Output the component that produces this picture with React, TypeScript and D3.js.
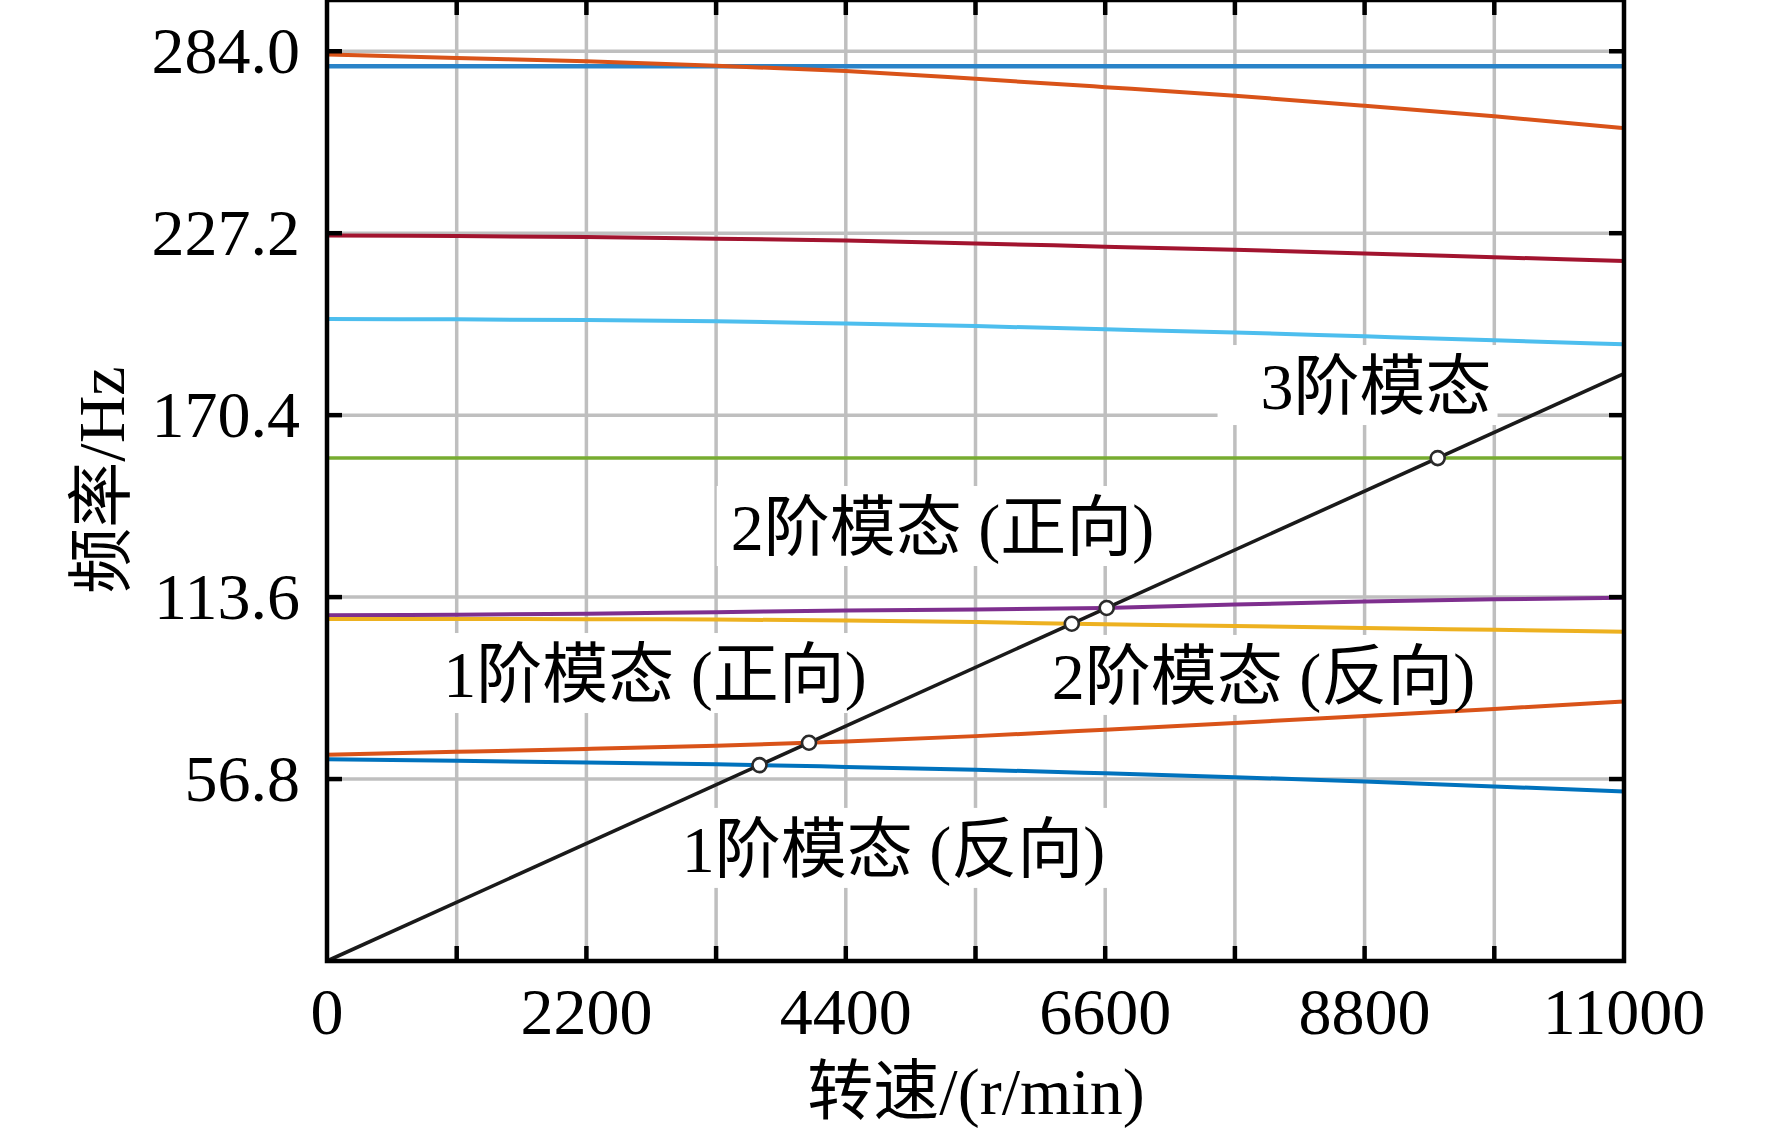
import * as d3 from "d3";

// rotor speed samples (r/min)
const speeds = [0, 1100, 2200, 3300, 4400, 5500, 6600, 7700, 8800, 9900, 11000];

// natural frequencies (Hz)
const mode1Backward = [63.0, 62.5, 62.0, 61.4, 60.6, 59.7, 58.6, 57.4, 56.0, 54.5, 52.9];
const mode1Forward = [64.4, 65.3, 66.2, 67.2, 68.5, 70.2, 72.2, 74.3, 76.5, 78.7, 81.0];
const mode2Backward = [106.8, 106.75, 106.7, 106.6, 106.3, 105.8, 105.1, 104.6, 103.95, 103.4, 102.8];
const mode2Forward = [107.9, 108.1, 108.4, 108.9, 109.4, 109.7, 110.2, 111.3, 112.2, 112.9, 113.4];
const mode3 = [157.0, 157.0, 157.0, 157.0, 157.0, 157.0, 157.0, 157.0, 157.0, 157.0, 157.0];
const mode4 = [200.4, 200.3, 200.1, 199.7, 199.0, 198.2, 197.2, 196.2, 195.0, 193.8, 192.5];
const mode5 = [226.5, 226.3, 226.0, 225.5, 224.9, 224.0, 223.0, 222.0, 220.9, 219.7, 218.5];
const mode6Flat = [279.3, 279.3, 279.3, 279.3, 279.3, 279.3, 279.3, 279.3, 279.3, 279.3, 279.3];
const mode6 = [283.0, 281.9, 280.9, 279.5, 277.8, 275.4, 272.8, 270.1, 267.0, 263.7, 260.0];

const seriesList = [
  { name: "mode6Flat", values: mode6Flat, color: "#2a83c8", w: 4.5 },
  { name: "mode6", values: mode6, color: "#D95319", w: 4 },
  { name: "mode5", values: mode5, color: "#A2142F", w: 4 },
  { name: "mode4", values: mode4, color: "#4DBEEE", w: 4 },
  { name: "mode3", values: mode3, color: "#77AC30", w: 3.5 },
  { name: "mode2Forward", values: mode2Forward, color: "#7E2F8E", w: 4 },
  { name: "mode2Backward", values: mode2Backward, color: "#EDB120", w: 4 },
  { name: "mode1Forward", values: mode1Forward, color: "#D95319", w: 4 },
  { name: "mode1Backward", values: mode1Backward, color: "#0072BD", w: 4 },
];

// excitation line f = n / 60
const excitationSpeeds = [0, 11000];
const excitation = [0, 11000 / 60];

const yTickValues = [56.8, 113.6, 170.4, 227.2, 284.0];
const xMinorTicks = [0, 1100, 2200, 3300, 4400, 5500, 6600, 7700, 8800, 9900, 11000];
const xTickLabels = [0, 2200, 4400, 6600, 8800, 11000];

const annotations = [
  { text: "3阶模态", x: 8897, y: 179.8, padL: 43, padR: 6 },
  { text: "2阶模态 (正向)", x: 5220, y: 135.8, padL: 14, padR: 14 },
  { text: "1阶模态 (正向)", x: 2782, y: 89.9, padL: 14, padR: 14 },
  { text: "2阶模态 (反向)", x: 7943, y: 89.3, padL: 14, padR: 14 },
  { text: "1阶模态 (反向)", x: 4805, y: 35.3, padL: 14, padR: 14 },
];

const W = 1772;
const H = 1136;
const FONT = "'Liberation Serif', 'Times New Roman', 'Noto Sans CJK SC', serif";
const FS = 66;

function textWidth(s: string, fs: number) {
  let w = 0;
  for (const ch of s) {
    if (/[\u4e00-\u9fff]/.test(ch)) w += 1;
    else if (ch === " ") w += 0.25;
    else if (ch === "(" || ch === ")") w += 0.333;
    else w += 0.5;
  }
  return w * fs;
}

export default function App() {
  const x = d3.scaleLinear().domain([0, 11000]).range([327, 1624]);
  const y = d3.scaleLinear().domain([0, 300]).range([961, 0]);

  const line = d3
    .line<number>()
    .x((_, i) => x(speeds[i]))
    .y((d) => y(d))
    .curve(d3.curveMonotoneX);

  const exLine = d3
    .line<number>()
    .x((_, i) => x(excitationSpeeds[i]))
    .y((d) => y(d));

  // crossings of each curve with f = n/60
  const crossings: { s: number; f: number }[] = [];
  seriesList.forEach((ser) => {
    for (let i = 0; i < speeds.length - 1; i++) {
      const d0 = ser.values[i] - speeds[i] / 60;
      const d1 = ser.values[i + 1] - speeds[i + 1] / 60;
      if (d0 > 0 && d1 <= 0) {
        const t = d0 / (d0 - d1);
        const s = speeds[i] + t * (speeds[i + 1] - speeds[i]);
        crossings.push({ s, f: s / 60 });
      }
    }
  });

  const [x0, x1] = x.range();
  const [yb, yt] = y.range();
  const tickLen = 15;
  const gridColor = "#bfbfbf";

  return (
    <svg
      width={W}
      height={H}
      style={{ position: "absolute", left: 0, top: 0, background: "#fff" }}
      fontFamily={FONT}
    >
      <rect width={W} height={H} fill="#fff" />

      {/* grid */}
      <g stroke={gridColor} strokeWidth={3.5}>
        {xMinorTicks.slice(1, -1).map((t) => (
          <line key={"gx" + t} x1={x(t)} x2={x(t)} y1={yt} y2={yb} />
        ))}
        {yTickValues.map((t) => (
          <line key={"gy" + t} x1={x0} x2={x1} y1={y(t)} y2={y(t)} />
        ))}
      </g>

      {/* label backgrounds */}
      {annotations.map((a) => {
        const w = textWidth(a.text, FS);
        const cx = x(a.x);
        const cy = y(a.y);
        return (
          <rect
            key={"bg" + a.text}
            x={cx - w / 2 - a.padL}
            y={cy - 40}
            width={w + a.padL + a.padR}
            height={80}
            fill="#fff"
          />
        );
      })}

      {/* mode curves */}
      {seriesList.map((ser) => (
        <path
          key={ser.name}
          d={line(ser.values) ?? ""}
          fill="none"
          stroke={ser.color}
          strokeWidth={ser.w}
        />
      ))}

      {/* excitation line */}
      <path d={exLine(excitation) ?? ""} fill="none" stroke="#1a1a1a" strokeWidth={3.6} />

      {crossings.map((c, i) => (
        <circle
          key={"c" + i}
          cx={x(c.s)}
          cy={y(c.f)}
          r={7}
          fill="#fff"
          stroke="#2a2a2a"
          strokeWidth={2.6}
        />
      ))}

      {/* ticks */}
      <g stroke="#000" strokeWidth={4.5}>
        {xMinorTicks.slice(1, -1).map((t) => (
          <g key={"tx" + t}>
            <line x1={x(t)} x2={x(t)} y1={yb} y2={yb - tickLen} />
            <line x1={x(t)} x2={x(t)} y1={yt} y2={yt + tickLen} />
          </g>
        ))}
        {yTickValues.map((t) => (
          <g key={"ty" + t}>
            <line x1={x0} x2={x0 + tickLen} y1={y(t)} y2={y(t)} />
            <line x1={x1} x2={x1 - tickLen} y1={y(t)} y2={y(t)} />
          </g>
        ))}
      </g>

      {/* frame */}
      <rect
        x={x0}
        y={yt}
        width={x1 - x0}
        height={yb - yt}
        fill="none"
        stroke="#000"
        strokeWidth={4.5}
      />

      {/* tick labels */}
      <g fontSize={FS} fill="#000">
        {xTickLabels.map((t) => (
          <text key={"lx" + t} x={x(t)} y={1034} textAnchor="middle">
            {t}
          </text>
        ))}
        {yTickValues.map((t) => (
          <text key={"ly" + t} x={300} y={y(t)} dy="0.33em" textAnchor="end">
            {t.toFixed(1)}
          </text>
        ))}
      </g>

      {/* annotations */}
      <g fontSize={FS} fill="#000">
        {annotations.map((a) => (
          <text key={a.text} x={x(a.x)} y={y(a.y)} dy="0.36em" textAnchor="middle">
            {a.text}
          </text>
        ))}
      </g>

      {/* axis titles */}
      <text x={976} y={1114} fontSize={FS} textAnchor="middle">
        转速/(r/min)
      </text>
      <text
        transform="translate(100,480) rotate(-90)"
        dy="0.36em"
        fontSize={FS}
        textAnchor="middle"
      >
        频率/Hz
      </text>
    </svg>
  );
}
